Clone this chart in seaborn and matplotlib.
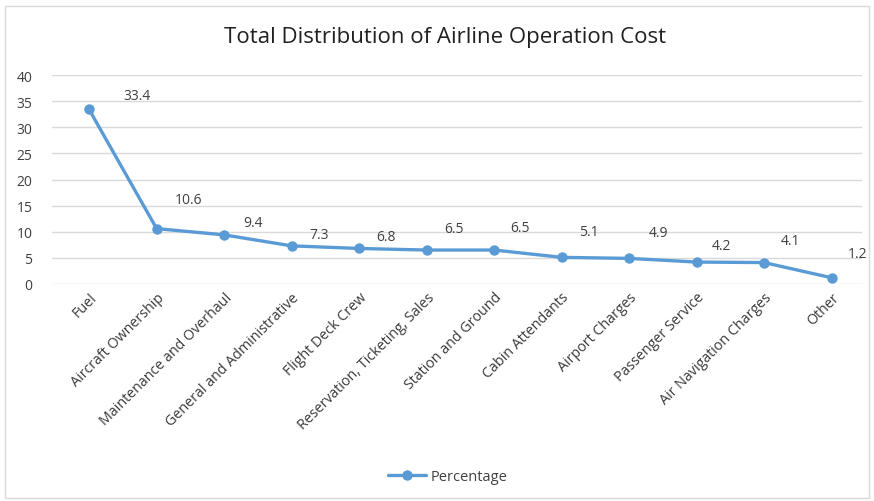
import matplotlib
matplotlib.use("Agg")
import matplotlib.pyplot as plt
import seaborn as sns
import pandas as pd
from matplotlib.patches import Rectangle

categories = ["Fuel", "Aircraft Ownership", "Maintenance and Overhaul",
              "General and Administrative", "Flight Deck Crew",
              "Reservation, Ticketing, Sales", "Station and Ground",
              "Cabin Attendants", "Airport Charges", "Passenger Service",
              "Air Navigation Charges", "Other"]
percentage = [33.4, 10.6, 9.4, 7.3, 6.8, 6.5, 6.5, 5.1, 4.9, 4.2, 4.1, 1.2]
y_ticks = [0, 5, 10, 15, 20, 25, 30, 35, 40]
# label offsets in pixels (dx, dy up)
label_offsets = [(48, 14), (32, 29), (29, 12), (27, 11), (27, 12), (27, 22),
                 (26, 23), (27, 26), (29, 26), (25, 17), (26, 22), (26, 24)]

df = pd.DataFrame({"Category": categories, "Percentage": percentage})

sns.set_theme(style="white")
plt.rcParams['font.family'] = ['Open Sans', 'DejaVu Sans']

W, H = 874, 502
fig = plt.figure(figsize=(W / 100, H / 100), dpi=100)
ax = fig.add_axes([52 / W, 1 - 285 / H, (862 - 52) / W, (285 - 76) / H])

color = "#5B9BD5"
sns.lineplot(data=df, x="Category", y="Percentage", sort=False, ax=ax,
             color=color, linewidth=2.4, marker="o", markersize=7.5,
             markeredgewidth=0, label="Percentage")

ax.set_xlim(-0.55, 11.45)
ax.set_ylim(0, 40)
ax.set_yticks(y_ticks)
ax.yaxis.grid(True, color="#D9D9D9", linewidth=1)
ax.xaxis.grid(False)
for s in ax.spines.values():
    s.set_visible(False)
ax.tick_params(axis="both", length=0, colors="#404040")
ax.tick_params(axis="y", pad=14, labelsize=10)
ax.set_xlabel("")
ax.set_ylabel("")
ax.set_xticks(range(len(categories)))
ax.set_xticklabels(categories, rotation=45, ha="right", rotation_mode="anchor",
                   fontsize=10.3, color="#3a3a3a")
ax.tick_params(axis="x", pad=4)

for i, (v, (dx, dy)) in enumerate(zip(percentage, label_offsets)):
    ax.annotate(f"{v}", (i, v), xytext=(dx * 0.72, dy * 0.72),
                textcoords="offset points", ha="center", va="center",
                fontsize=10, color="#404040")

ax.legend(loc="center", bbox_to_anchor=(448 / W, 1 - 478 / H), bbox_transform=fig.transFigure,
          frameon=False, fontsize=10.5, handlelength=2.6, handletextpad=0.3,
          labelcolor="#404040")

fig.text(445 / W, 1 - 38 / H, "Total Distribution of Airline Operation Cost",
         ha="center", va="center", fontsize=16, color="#202020")

fig.patches.append(Rectangle((5 / W, 3 / H), (W - 10) / W, (H - 10) / H,
                             transform=fig.transFigure, fill=False,
                             edgecolor="#D9D9D9", linewidth=1))

fig.savefig("out.png", dpi=100)
